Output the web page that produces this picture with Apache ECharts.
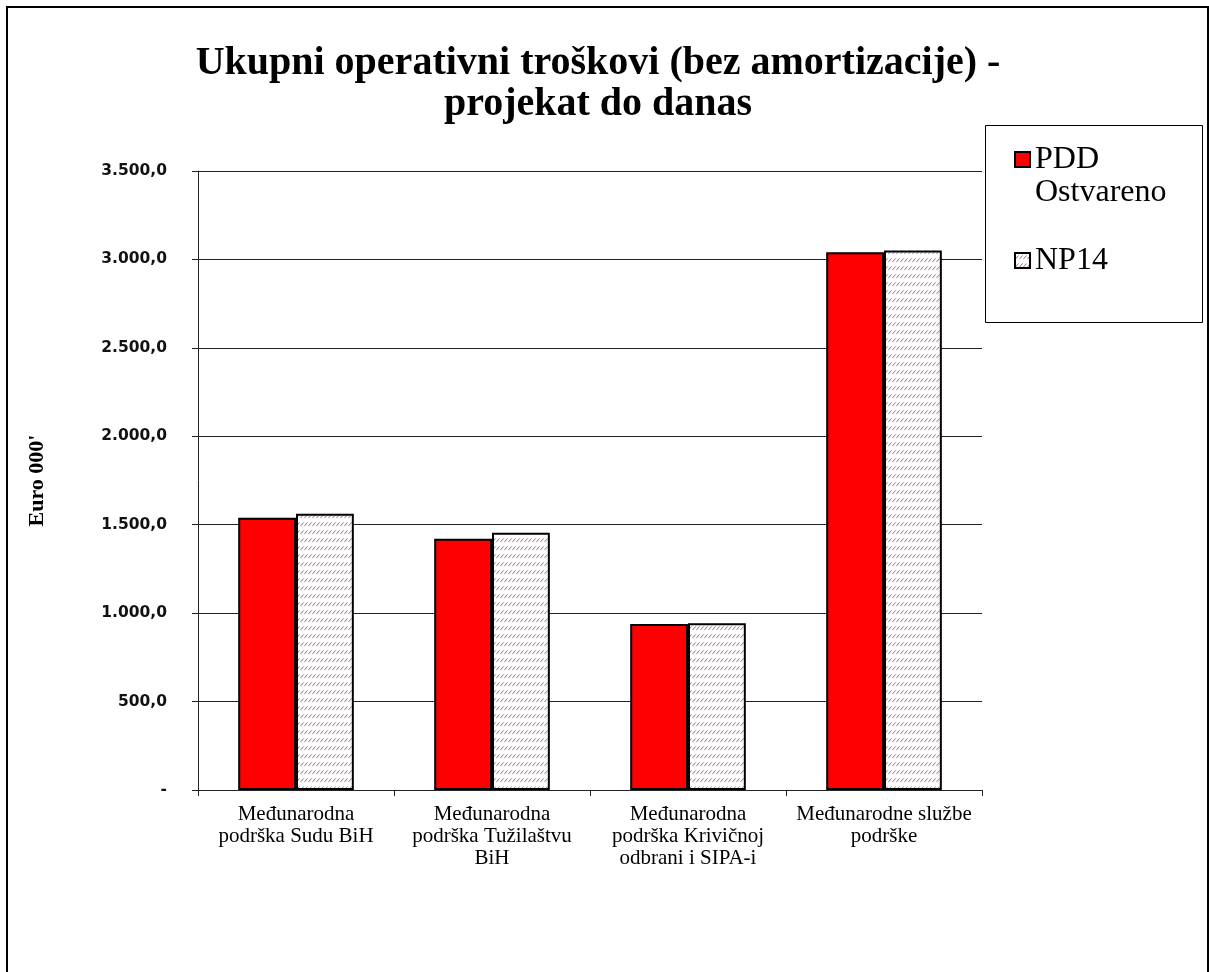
<!DOCTYPE html>
<html><head><meta charset="utf-8">
<script src="https://cdn.jsdelivr.net/npm/echarts@6/dist/echarts.min.js"></script>
<style>html,body{margin:0;padding:0;background:#fff}#c{width:1209px;height:972px}</style>
</head><body><div id="c"></div>
<script>
const titleText = 'Ukupni operativni troškovi (bez amortizacije) -\nprojekat do danas';
const categories = ['Međunarodna\npodrška Sudu BiH', 'Međunarodna\npodrška Tužilaštvu\nBiH', 'Međunarodna\npodrška Krivičnoj\nodbrani i SIPA-i', 'Međunarodne službe\npodrške'];
const seriesNames = ['PDD Ostvareno', 'NP14'];
const pddValues = [1540, 1421, 938, 3040];
const np14Values = [1562, 1455, 943, 3050];
const yTicks = [0, 500, 1000, 1500, 2000, 2500, 3000, 3500];

function makePattern() {
  const c = document.createElement('canvas');
  c.width = 4; c.height = 8;
  const g = c.getContext('2d');
  g.fillStyle = '#ffffff'; g.fillRect(0, 0, 4, 8);
  g.strokeStyle = 'rgba(190,70,125,0.9)'; g.lineWidth = 1;
  g.beginPath(); g.moveTo(0.5, 6); g.lineTo(3.5, 2.5); g.stroke();
  return c;
}
function fmt(v) {
  if (v === 0) return '-';
  const s = String(Math.round(v)).replace(/\B(?=(\d{3})+(?!\d))/g, '.');
  return s + ',0';
}
const chart = echarts.init(document.getElementById('c'));
chart.setOption({
  backgroundColor: '#fff',
  animation: false,
  title: {
    text: titleText, left: 593, top: 38, textAlign: 'center',
    textStyle: { fontFamily: 'Liberation Serif', fontWeight: 'bold', fontSize: 40, lineHeight: 41, color: '#000' }
  },
  graphic: [
    { type: 'rect', shape: { x: 7, y: 7, width: 1201, height: 1000 }, style: { fill: 'none', stroke: '#000', lineWidth: 2 }, silent: true, z: -1 },
    { type: 'rect', shape: { x: 985.5, y: 125.5, width: 217, height: 197 }, style: { fill: '#fff', stroke: '#000', lineWidth: 1 }, silent: true, z: 0 }
  ],
  legend: {
    orient: 'vertical', left: 1014, top: 110, padding: 0, itemGap: 35,
    itemWidth: 15, itemHeight: 15, icon: 'rect', z: 5,
    data: seriesNames,
    formatter: n => n === 'PDD Ostvareno' ? ' \nPDD\nOstvareno' : n,
    itemStyle: { borderColor: '#000', borderWidth: 2 },
    textStyle: { fontFamily: 'Liberation Serif', fontSize: 32, lineHeight: 33, color: '#000' },
    selectedMode: false
  },
  grid: { left: 198, right: 227, top: 171, bottom: 182 },
  xAxis: {
    type: 'category', data: categories,
    axisLine: { lineStyle: { color: '#222', width: 1 } },
    axisTick: { show: true, length: 6, lineStyle: { color: '#222' } },
    axisLabel: { interval: 0, fontFamily: 'Liberation Serif', fontSize: 21, lineHeight: 22, color: '#000', margin: 13 }
  },
  yAxis: {
    type: 'value', min: 0, max: 3500, interval: 500,
    name: "Euro 000'", nameLocation: 'middle', nameGap: 150, nameRotate: 90,
    nameTextStyle: { fontFamily: 'Liberation Serif', fontWeight: 'bold', fontSize: 22, color: '#000' },
    axisLine: { show: true, lineStyle: { color: '#222', width: 1 } },
    axisTick: { show: true, length: 6, lineStyle: { color: '#222' } },
    splitLine: { lineStyle: { color: '#222', width: 1 } },
    axisLabel: { formatter: fmt, fontFamily: 'DejaVu Sans', fontWeight: 'bold', fontSize: 15.5, color: '#111', margin: 31,
      customValues: yTicks }
  },
  series: [
    { name: seriesNames[0], type: 'bar', data: pddValues, barGap: '0%', barCategoryGap: '41%',
      itemStyle: { color: '#ff0000', borderColor: '#000', borderWidth: 2 } },
    { name: seriesNames[1], type: 'bar', data: np14Values,
      itemStyle: { color: { image: makePattern(), repeat: 'repeat' }, borderColor: '#000', borderWidth: 2 } }
  ]
});
</script></body></html>
